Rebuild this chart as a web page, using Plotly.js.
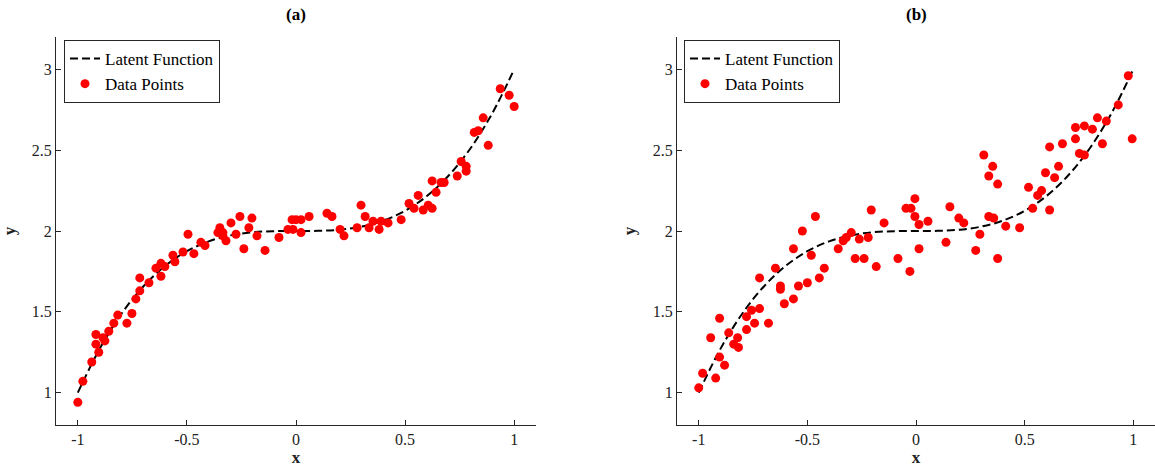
<!DOCTYPE html>
<html>
<head>
<meta charset="utf-8">
<script src="https://cdn.plot.ly/plotly-3.0.1.min.js"></script>
<style>html,body{margin:0;padding:0;background:#fff;}#chart{width:1155px;height:470px;}</style>
</head>
<body>
<div id="chart"></div>
<script>
// Latent function
const latentX = [-1,-0.9,-0.8,-0.7,-0.6,-0.5,-0.4,-0.3,-0.2,-0.1,0,0.1,0.2,0.3,0.4,0.5,0.6,0.7,0.8,0.9,1];
const latentY = [1.0,1.271,1.488,1.657,1.784,1.875,1.936,1.973,1.992,1.999,2.0,2.001,2.008,2.027,2.064,2.125,2.216,2.343,2.512,2.729,3.0];

// Panel (a) data points
const aX = [-1.00,-0.977,-0.936,-0.904,-0.917,-0.917,-0.876,-0.885,-0.858,-0.835,-0.817,-0.775,-0.752,-0.734,-0.716,-0.716,-0.674,-0.642,-0.619,-0.619,-0.601,-0.564,-0.555,-0.518,-0.495,-0.468,-0.436,-0.417,-0.358,-0.349,-0.335,-0.335,-0.321,-0.298,-0.275,-0.257,-0.239,-0.216,-0.202,-0.179,-0.142,-0.078,-0.037,-0.018,0.0,-0.014,0.023,0.023,0.060,0.142,0.165,0.202,0.220,0.280,0.298,0.317,0.335,0.353,0.381,0.390,0.422,0.482,0.518,0.541,0.560,0.583,0.606,0.624,0.624,0.642,0.665,0.679,0.739,0.757,0.780,0.780,0.817,0.835,0.858,0.881,0.936,0.977,1.000];
const aY = [0.94,1.07,1.19,1.25,1.30,1.36,1.32,1.34,1.38,1.43,1.48,1.43,1.49,1.58,1.63,1.71,1.68,1.77,1.72,1.80,1.78,1.85,1.81,1.87,1.98,1.86,1.93,1.91,1.99,2.02,1.97,1.99,1.94,2.05,1.98,2.09,1.89,2.02,2.08,1.97,1.88,1.96,2.01,2.07,2.07,2.01,1.99,2.07,2.09,2.11,2.09,2.01,1.97,2.02,2.16,2.09,2.02,2.06,2.01,2.06,2.05,2.07,2.17,2.14,2.22,2.13,2.16,2.14,2.31,2.24,2.30,2.30,2.34,2.43,2.40,2.37,2.61,2.62,2.70,2.53,2.88,2.84,2.77];

// Panel (b) data points
const bX = [-1.000,-0.982,-0.922,-0.904,-0.881,-0.945,-0.904,-0.862,-0.839,-0.817,-0.821,-0.780,-0.743,-0.679,-0.780,-0.757,-0.720,-0.624,-0.624,-0.606,-0.564,-0.541,-0.500,-0.445,-0.422,-0.720,-0.647,-0.564,-0.523,-0.463,-0.482,-0.358,-0.335,-0.321,-0.298,-0.261,-0.220,-0.206,-0.147,-0.280,-0.239,-0.183,-0.083,-0.046,-0.023,-0.005,-0.005,0.014,0.055,0.014,-0.028,0.138,0.156,0.197,0.220,0.294,0.275,0.312,0.353,0.335,0.376,0.335,0.358,0.376,0.413,0.477,0.518,0.537,0.560,0.578,0.615,0.596,0.638,0.656,0.615,0.674,0.734,0.734,0.775,0.812,0.835,0.876,0.752,0.775,0.858,0.931,0.977,0.995];
const bY = [1.03,1.12,1.09,1.22,1.17,1.34,1.46,1.37,1.30,1.28,1.34,1.39,1.43,1.43,1.47,1.51,1.52,1.66,1.64,1.55,1.58,1.66,1.68,1.71,1.77,1.71,1.77,1.89,2.00,2.09,1.85,1.89,1.94,1.96,1.99,1.95,1.96,2.13,2.05,1.83,1.83,1.78,1.83,2.14,2.14,2.20,2.09,2.04,2.06,1.89,1.75,1.93,2.15,2.08,2.05,1.98,1.88,2.47,2.40,2.34,2.29,2.09,2.08,1.83,2.03,2.02,2.27,2.14,2.22,2.25,2.13,2.36,2.33,2.40,2.52,2.54,2.57,2.64,2.65,2.63,2.70,2.68,2.48,2.47,2.54,2.78,2.96,2.57];

const xTicks = [-1,-0.5,0,0.5,1];
const xTickText = ['-1','-0.5','0','0.5','1'];
const yTicks = [1,1.5,2,2.5,3];
const yTickText = ['1','1.5','2','2.5','3'];
const panelTitles = ['(a)','(b)'];

const SERIF = '"Liberation Serif", "Times New Roman", Times, serif';
const AX = '#262626';

function lineTrace(xa, ya, lg) {
  return {x: latentX, y: latentY, xaxis: xa, yaxis: ya, legend: lg, mode: 'lines', name: 'Latent Function',
    line: {color: '#000', width: 2, dash: '8px,4px', shape: 'spline'}};
}
function ptsTrace(x, y, xa, ya, lg) {
  return {x: x, y: y, xaxis: xa, yaxis: ya, legend: lg, mode: 'markers', name: 'Data Points',
    marker: {color: '#ff0000', size: 9}};
}
const traces = [
  lineTrace('x','y','legend'), ptsTrace(aX, aY, 'x','y','legend'),
  lineTrace('x2','y2','legend2'), ptsTrace(bX, bY, 'x2','y2','legend2')
];

function xax(dom) {
  return {domain: dom, range: [-1.1,1.1], showline: true, linecolor: AX, linewidth: 1,
    ticks: 'inside', ticklen: 5, tickcolor: AX, tickvals: xTicks, ticktext: xTickText,
    showgrid: false, zeroline: false, tickfont: {family: SERIF, size: 16, color: '#222'},
    title: {text: '<b>x</b>', font: {family: SERIF, size: 17, color: '#222'}, standoff: 2}};
}
function yax(xanchor) {
  return {domain: [1-425/470, 1-37/470], anchor: xanchor, range: [0.8,3.2], showline: true, linecolor: AX, linewidth: 1,
    ticks: 'inside', ticklen: 5, tickcolor: AX, tickvals: yTicks, ticktext: yTickText,
    showgrid: false, zeroline: false, tickfont: {family: SERIF, size: 16, color: '#222'},
    title: {text: '<b>y</b>', font: {family: SERIF, size: 17, color: '#222'}, standoff: 12}};
}
function legendBox(xpos) {
  return {x: xpos, y: 1-40/470, xanchor: 'left', yanchor: 'top', bgcolor: '#fff',
    bordercolor: AX, borderwidth: 1, font: {family: SERIF, size: 17, color: '#000'},
    tracegroupgap: 0, itemwidth: 30};
}

const layout = {
  width: 1155, height: 470,
  margin: {l: 0, r: 0, t: 0, b: 0},
  paper_bgcolor: '#fff', plot_bgcolor: '#fff',
  xaxis: Object.assign(xax([56/1155, 536/1155]), {anchor: 'y'}),
  yaxis: yax('x'),
  xaxis2: Object.assign(xax([677/1155, 1]), {anchor: 'y2'}),
  yaxis2: yax('x2'),
  legend: legendBox(64/1155),
  legend2: legendBox(684/1155),
  annotations: [
    {text: '<b>' + panelTitles[0] + '</b>', xref: 'x domain', yref: 'paper', x: 0.5, y: 1-15/470, showarrow: false,
     font: {family: SERIF, size: 17, color: '#000'}, xanchor: 'center', yanchor: 'middle'},
    {text: '<b>' + panelTitles[1] + '</b>', xref: 'x2 domain', yref: 'paper', x: 0.5, y: 1-15/470, showarrow: false,
     font: {family: SERIF, size: 17, color: '#000'}, xanchor: 'center', yanchor: 'middle'}
  ],
  showlegend: true
};

Plotly.newPlot('chart', traces, layout, {staticPlot: true, displayModeBar: false});
</script>
</body>
</html>
